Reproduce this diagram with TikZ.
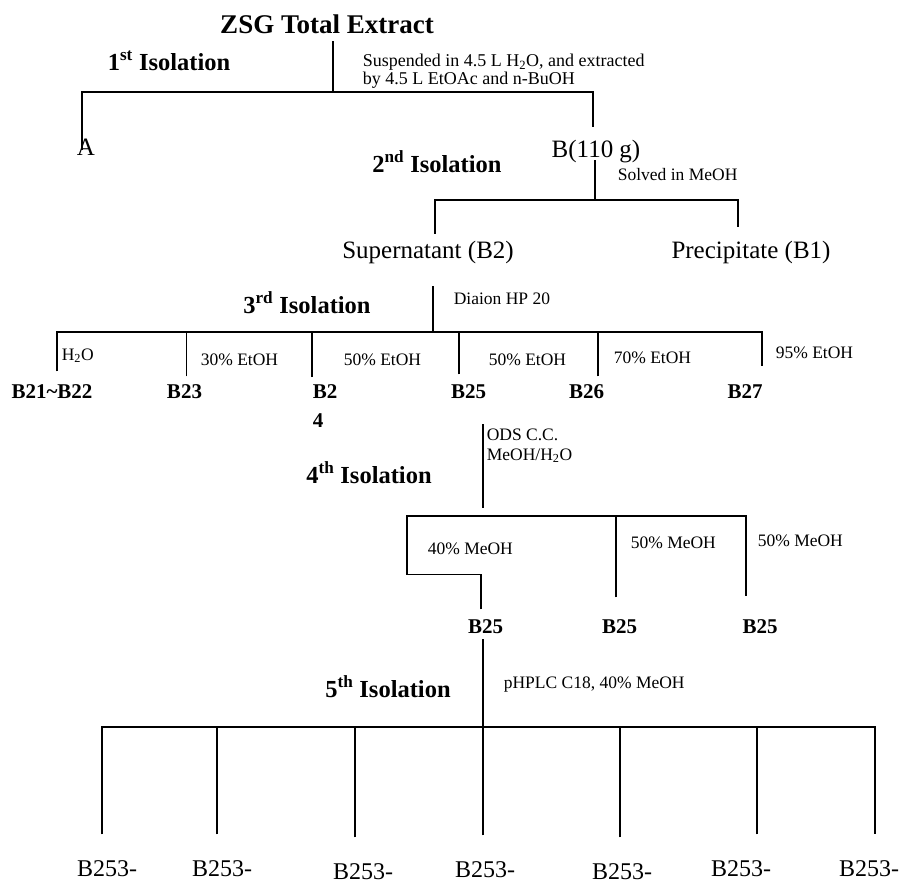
\documentclass[tikz,border=0pt]{standalone}
\usepackage{fontspec}
\setmainfont{Liberation Serif}

\begin{document}
\begin{tikzpicture}[x=1pt, y=-1pt, line width=1.6pt,
  every node/.append style={inner sep=0pt},
  title/.style={font=\fontsize{27}{30}\selectfont\bfseries, anchor=base},
  stage/.style={font=\fontsize{24.5}{27}\selectfont\bfseries, anchor=base},
  cond/.style={font=\fontsize{17.5}{19.5}\selectfont, anchor=base west, align=left},
  prod/.style={font=\fontsize{25}{28}\selectfont, anchor=base},
  frac/.style={font=\fontsize{21}{24}\selectfont\bfseries, anchor=base},
  part/.style={font=\fontsize{24}{26}\selectfont, anchor=base}]
  \useasboundingbox (0,0) rectangle (899,884);

  \node[title] (zsg) at (327,33) {ZSG Total Extract};
  \node[stage] (iso1) at (169,70) {1\textsuperscript{st} Isolation};
  \node[cond, font=\fontsize{18}{17.5}\selectfont] (ext) at (362,84)
    {Suspended in 4.5 L H\textsubscript{2}O, and extracted\\by 4.5 L EtOAc and n-BuOH};
  \node[prod] (A) at (86,155) {A};
  \node[prod] (B) at (596,157) {B(110 g)};
  \coordinate (j1) at (333,92);
  \draw (zsg.south -| j1) ++(0,7) -- (j1);
  \draw (A.north) ++(-4,12) |- (j1) -| ([shift={(-3,-12)}]B.north);

  \node[stage] (iso2) at (437,172) {2\textsuperscript{nd} Isolation};
  \node[cond] (sol) at (617,180) {Solved in MeOH};
  \node[prod] (sup) at (428,258) {Supernatant (B2)};
  \node[prod] (pre) at (751,258) {Precipitate (B1)};
  \coordinate (j2) at (595,200);
  \draw (B.base -| j2) ++(0,3) -- (j2);
  \draw (sup.north) ++(7,-6) |- (j2) -| ([shift={(-13,-13)}]pre.north);

  \node[stage] (iso3) at (307,313) {3\textsuperscript{rd} Isolation};
  \node[cond] (dia) at (453,304) {Diaion HP 20};
  \coordinate (j3) at (433,332);
  \draw (sup.south -| j3) ++(0,22) -- (j3);
  \node[frac] (b2122) at (52,398) {B21\textasciitilde B22};
  \node[frac] (b23) at (184.5,398) {B23};
  \node[frac, anchor=north west, align=left, font=\fontsize{21}{29}\selectfont\bfseries] (b24) at (312,384) {B2\\4};
  \node[frac] (b25) at (468.5,398) {B25};
  \node[frac] (b26) at (586.5,398) {B26};
  \node[frac] (b27) at (745,398) {B27};
  \foreach \n/\a/\dx/\dy in {b2122/north/5/-12, b23/north/2/-7, b24/north west/0/-7,
      b25/north/-9.5/-9, b26/north/11.5/-7, b27/north/17/-17}
    \path (\n.\a) ++(\dx,\dy) coordinate (l\n);
  \draw (lb2122) |- (j3) -| (lb27);
  \foreach \n in {b23,b24,b25,b26}
    \draw (l\n) -- (l\n |- j3);
  \node[cond] (h2o) at (61,360) {H\textsubscript{2}O};
  \node[cond] (e30) at (200,365) {30\% EtOH};
  \node[cond] (e50a) at (343,365) {50\% EtOH};
  \node[cond] (e50b) at (488,365) {50\% EtOH};
  \node[cond] (e70) at (613,363) {70\% EtOH};
  \node[cond] (e95) at (775,358) {95\% EtOH};

  \coordinate (j4) at (483,516);
  \draw (b25.south -| j4) ++(0,25) -- ([yshift=8pt]j4);
  \node[cond] (ods) at (486,460) {ODS C.C.\\MeOH/H\textsubscript{2}O};
  \node[stage] (iso4) at (369,483) {4\textsuperscript{th} Isolation};
  \node[frac] (c25a) at (485.5,633) {B25};
  \node[frac] (c25b) at (619.5,633) {B25};
  \node[frac] (c25c) at (760,633) {B25};
  \draw (c25a.north) ++(-4.5,-9) |- ++(-74,-35) |- (j4) -| ([shift={(-14,-22)}]c25c.north);
  \draw (c25b.north) ++(-3.5,-21) coordinate (l25b) -- (l25b |- j4);
  \node[cond] (m40) at (427,554) {40\% MeOH};
  \node[cond] (m50a) at (630,548) {50\% MeOH};
  \node[cond] (m50b) at (757,546) {50\% MeOH};

  \coordinate (j5) at (483,727);
  \draw (c25a.south -| j5) ++(0,5) -- (j5);
  \node[stage] (iso5) at (388,697) {5\textsuperscript{th} Isolation};
  \node[cond] (hplc) at (503,688) {pHPLC C18, 40\% MeOH};
  \foreach \cx/\by/\lx [count=\i] in {107/876/102, 222/876/217, 363/879/355,
      485/877/483, 622/879/620, 741/876/757, 869/876/875} {
    \node[part] (p\i) at (\cx,\by) {B253-};
    \path (p\i.north) ++(\lx-\cx,-25) coordinate (l\i);
  }
  \draw (l1) |- (j5) -| (l7);
  \foreach \i in {2,...,6}
    \draw (l\i) -- (l\i |- j5);
\end{tikzpicture}
\end{document}
